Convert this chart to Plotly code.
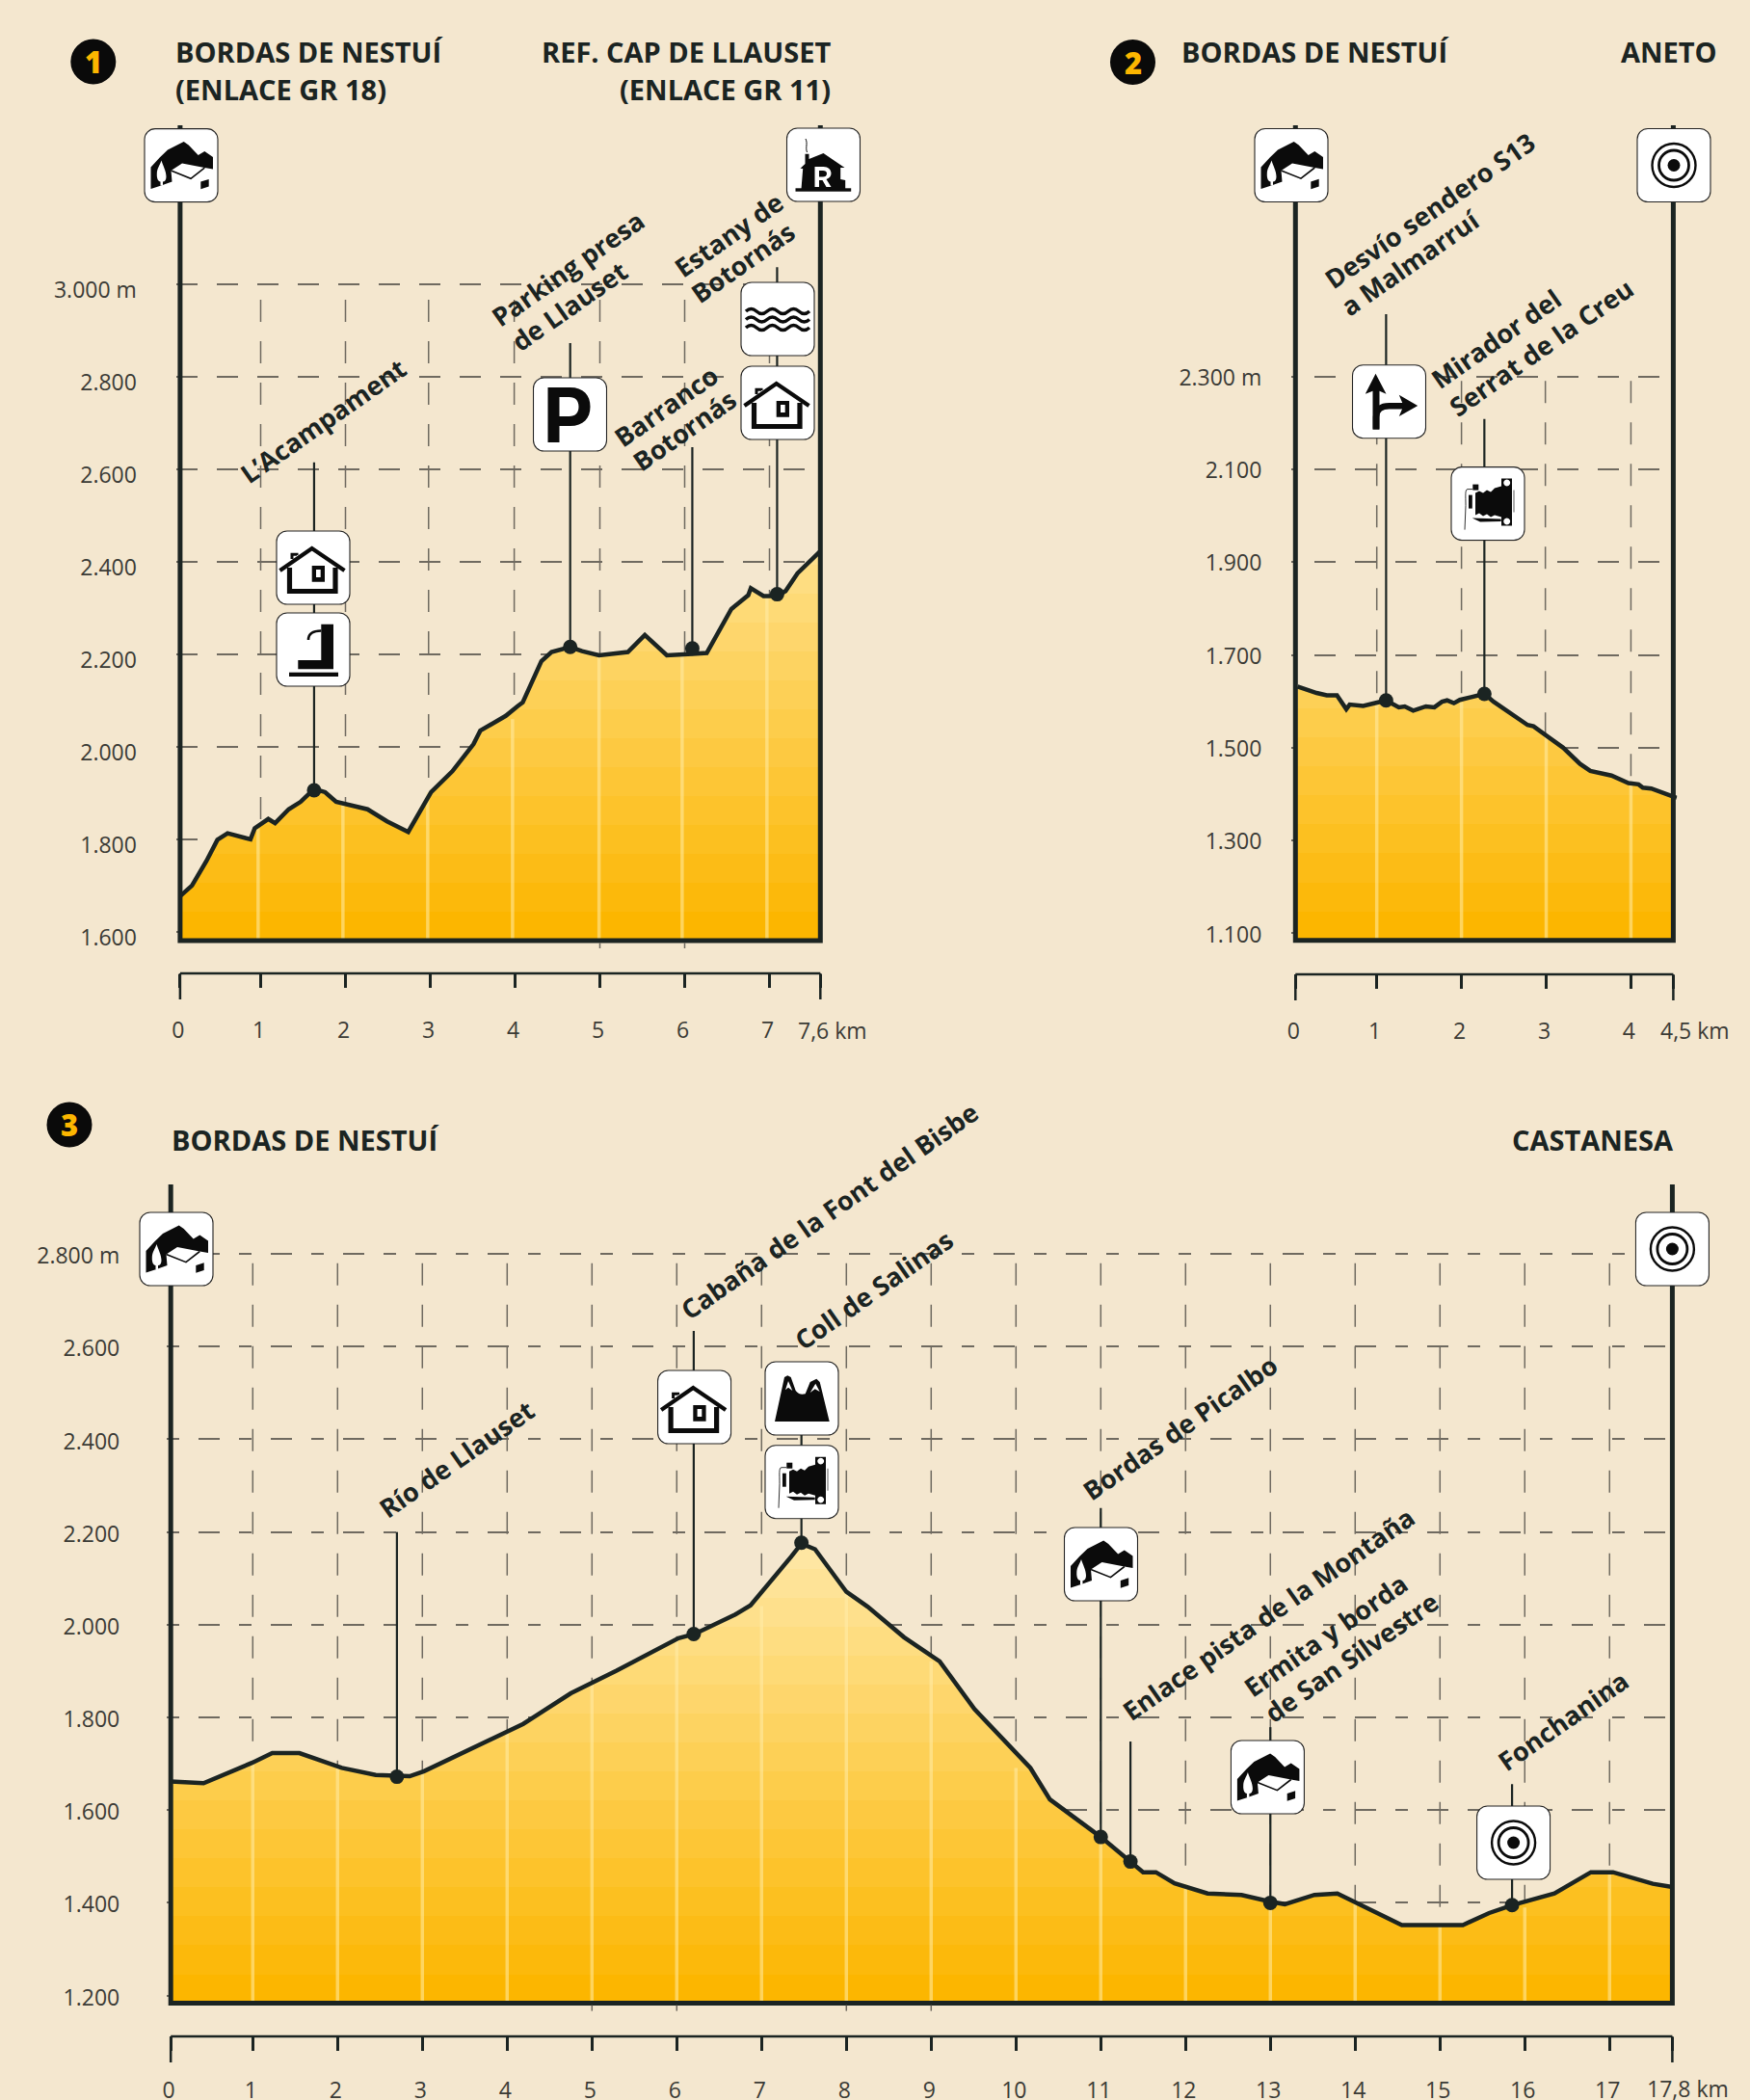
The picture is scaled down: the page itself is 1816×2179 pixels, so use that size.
import base64
import plotly.graph_objects as go

W, H = 1816, 2179
BG = "#f4e7cf"
INK = "#1b2422"
GRID = "#6f6a60"
FONT = "Open Sans"

# ---------- panel 1 ----------
p1_km = [0.05,0.19,0.36,0.49,0.61,0.88,0.93,1.09,1.17,1.33,1.47,1.63,1.76,1.89,2.26,2.49,2.74,3.01,3.26,3.51,3.59,3.73,3.89,4.03,4.09,4.31,4.43,4.65,4.79,4.99,5.33,5.53,5.79,6.09,6.26,6.55,6.75,6.78,6.93,7.09,7.19,7.33,7.6]
p1_elev = [1677,1700,1753,1799,1813,1800,1824,1844,1835,1865,1881,1909,1902,1881,1865,1839,1816,1902,1947,2006,2035,2049,2067,2088,2096,2185,2205,2216,2207,2198,2205,2242,2198,2201,2203,2298,2328,2343,2326,2326,2337,2375,2423]
p1_dots_km = [1.63,4.65,6.09,7.09]
p1_dots_elev = [1906,2216,2213,2330]
p1_leader_top = [2615,2873,2648,3037]
p1_ygrid = [3000,2800,2600,2400,2200,2000,1800,1600]
p1_ylabels = ["3.000 m","2.800","2.600","2.400","2.200","2.000","1.800","1.600"]
p1_xticks = [0.05,1,2,3,4,5,6,7,7.6]
p1_xlabels = ["0","1","2","3","4","5","6","7",""]
p1_end_label = ("7,6 km",864,1068.6)
p1_vgrid = [1,2,2.98,3.99,5,6,7]
p1_stub_km = [5,6]
p1_pale_km = [0.97,1.97,2.97,3.97,4.99,5.97,6.97]
p1_pale_top = [1824,1881,1902,2060,2198,2201,2326]

# ---------- panel 2 ----------
p2_km = [0.065,0.29,0.41,0.53,0.64,0.68,0.84,1.11,1.26,1.33,1.43,1.58,1.68,1.77,1.83,1.91,1.98,2.27,2.38,2.78,2.85,3.0,3.2,3.4,3.52,3.77,3.97,4.09,4.14,4.24,4.54]
p2_elev = [1632,1618,1613,1613,1583,1593,1590,1602,1587,1589,1580,1589,1587,1599,1602,1596,1603,1616,1599,1549,1546,1527,1500,1465,1450,1440,1424,1421,1414,1412,1392]
p2_dots_km = [1.11,2.27]
p2_dots_elev = [1602,1616]
p2_leader_top = [2434,2208]
p2_ygrid = [2300,2100,1900,1700,1500,1300,1100]
p2_ylabels = ["2.300 m","2.100","1.900","1.700","1.500","1.300","1.100"]
p2_xticks = [0.04,1,2,3,4,4.5]
p2_xlabels = ["0","1","2","3","4",""]
p2_end_label = ("4,5 km",1759,1068.6)
p2_vgrid = [1,2,2.99,4]
p2_stub_km = []
p2_pale_km = [1,2,3,4]
p2_pale_top = [1600,1598,1527,1424]

# ---------- panel 3 ----------
p3_km = [0.033,0.42,0.99,1.23,1.55,2.05,2.45,2.85,3.02,3.99,4.19,4.75,5.29,6.02,6.21,6.69,6.87,7.35,7.47,7.63,8.0,8.25,8.49,8.68,9.10,9.51,10.17,10.40,11.0,11.35,11.50,11.65,11.87,12.26,12.66,12.99,13.17,13.52,13.79,14.55,15.27,15.58,15.85,16.35,16.78,17.04,17.51,17.74]
p3_elev = [1662,1658,1702,1723,1723,1691,1676,1673,1684,1768,1786,1852,1901,1971,1980,2022,2042,2147,2175,2163,2071,2039,2001,1973,1921,1818,1691,1623,1542,1489,1466,1466,1442,1420,1417,1403,1397,1417,1420,1352,1352,1378,1395,1420,1466,1466,1441,1434]
p3_dots_km = [2.70,6.20,7.47,11.0,11.35,13.0,15.85]
p3_dots_elev = [1672,1980,2177,1542,1489,1400,1395]
p3_leader_top = [2200,2634,2566,2252,1748,1779,1656]
p3_ygrid = [2800,2600,2400,2200,2000,1800,1600,1400,1200]
p3_ylabels = ["2.800 m","2.600","2.400","2.200","2.000","1.800","1.600","1.400","1.200"]
p3_xticks = [0.033,1,2,3,4,5,6,7,8,9,10,11,12,13,14,15,16,17,17.74]
p3_xlabels = ["0"]+[str(i) for i in range(1,18)]+[""]
p3_end_label = ("17,8 km",1751,2167)
p3_vgrid = [1,2,3,4,5,6,7,8,9,10,11,12,13,14,15,16,17]
p3_stub_km = [5,6,8,9]
p3_pale_km = [1,2,3,4,5,6,7,8,9,10,11,12,13,14,15,16,17]
p3_pale_top = [1702,1691,1684,1768,1875,1965,2040,2071,1921,1691,1542,1442,1403,1400,1352,1390,1466]

# geometry of panels: pixel box of the frame and axis ranges at the frame
PANELS = [
    dict(km=p1_km, elev=p1_elev, dk=p1_dots_km, de=p1_dots_elev, top=p1_leader_top, yg=p1_ygrid, yl=p1_ylabels,
         xt=p1_xticks, xl=p1_xlabels, vg=p1_vgrid, pk=p1_pale_km, pt=p1_pale_top, stub=p1_stub_km, end=p1_end_label,
         box=(186.9,851.3,130,976), xr=(0.05,7.6), yr=(1581,3344), grid_top=2967, bracket=1010, yshift=6, ystand=40,
         xstand=24, hdash="22px,20px"),
    dict(km=p2_km, elev=p2_elev, dk=p2_dots_km, de=p2_dots_elev, top=p2_leader_top, yg=p2_ygrid, yl=p2_ylabels,
         xt=p2_xticks, xl=p2_xlabels, vg=p2_vgrid, pk=p2_pale_km, pt=p2_pale_top, stub=p2_stub_km, end=p2_end_label,
         box=(1344.3,1736.4,130,975.8), xr=(0.04,4.5), yr=(1084.8,2841), grid_top=2290, bracket=1011, yshift=1, ystand=30,
         xstand=24, hdash="4px,20px,22px,20px,22px,20px,22px,20px,22px,20px,22px,20px,22px,20px,22px,20px,22px,20px,22px,20px"),
    dict(km=p3_km, elev=p3_elev, dk=p3_dots_km, de=p3_dots_elev, top=p3_leader_top, yg=p3_ygrid, yl=p3_ylabels,
         xt=p3_xticks, xl=p3_xlabels, vg=p3_vgrid, pk=p3_pale_km, pt=p3_pale_top, stub=p3_stub_km, end=p3_end_label,
         box=(177.2,1735.4,1229,2078.6), xr=(0.033,17.74), yr=(1183.3,2950), grid_top=2780, bracket=2113, yshift=2, ystand=48,
         xstand=21, hdash="13px,20px,22px,20px"),
]

# text (label, centre x px, centre y px)
point_labels = [
    ("L\u2019Acampament",335,436),("Parking presa",589,278),("de Llauset",590.5,317),
    ("Estany de",756,243),("Botorn\u00e1s",770,272),("Barranco",690.5,421),("Botorn\u00e1s",710,447),
    ("Desv\u00edo sendero S13",1483,218),("a Malmarru\u00ed",1463,272),("Mirador del",1552,351.5),("Serrat de la Creu",1599,361),
    ("R\u00edo de Llauset",474,1513),("Caba\u00f1a de la Font del Bisbe",860,1256),("Coll de Salinas",906,1338),
    ("Bordas de Picalbo",1224,1481),("Enlace pista de la Monta\u00f1a",1316,1674),("Ermita y borda",1375.5,1696.5),
    ("de San Silvestre",1402,1719),("Fonchanina",1621.5,1785),
]
titles = [
    ("BORDAS DE NESTU\u00cd",179.5,53.6,"left"),("(ENLACE GR 18)",179.5,93,"left"),
    ("REF. CAP DE LLAUSET",864,53.6,"right"),("(ENLACE GR 11)",864,93,"right"),
    ("BORDAS DE NESTU\u00cd",1224,53.3,"left"),("ANETO",1784,53.3,"right"),
    ("BORDAS DE NESTU\u00cd",176,1182.5,"left"),("CASTANESA",1739,1182.5,"right"),
]
badges = [("1",96.8,64),("2",1175.5,64.5),("3",72,1167)]

# icons: (glyph, centre x px, centre y px)
icons = [
    ("chalet",188,171.6),("refuge",854.5,171),("lake",807,331),("house",807,418),("parking",591.5,430),
    ("house",325,589),("fountain",325,674),
    ("chalet",1340,171.5),("target",1737,171.5),("turn",1441.5,416.7),("camera",1544,522.6),
    ("chalet",183,1296),("house",720.6,1460),("pass",832,1451),("camera",832,1537.7),
    ("chalet",1142.5,1623),("target",1735.4,1296),("chalet",1315.4,1844),("target",1570.6,1912),
]

K = "#0b0b0b"
GLYPHS = {
 "chalet": f'''<path fill="{K}" d="M6.5,40 L15.7,30 L24,22 L40.7,13.5 L45.7,17 L55.7,27.5 L62.3,23.5 L71,29.5 L71,42 L62.3,40.5 L39,36 L27.5,43.5 L28.5,55 L17.3,59 L6.5,62.5Z"/>
 <path fill="#fff" d="M17.5,33 C19,38 22.5,44 22.5,50 C22.5,53 21,55 19,55 L19,59 L16.5,59 L16.5,55 C14.5,55 12.5,52 12.8,47 C12.8,41 16,38 17.5,33Z"/>
 <path fill="#fff" stroke="{K}" stroke-width="1.6" d="M27.5,43.5 L48,51.7 L62.3,40.5"/>
 <path fill="{K}" d="M58.3,55 L66.7,52.3 L66.7,60 L58.3,62.7Z"/>''',
 "refuge": f'''<path fill="none" stroke="{K}" stroke-width="1" d="M21,25 C19,20 22,16 19.5,11"/>
 <rect x="9" y="62.3" width="57.7" height="3.4" fill="{K}"/>
 <path fill="{K}" d="M19,26.7 H23 V32 L38,26 L60,41 L55.7,41 L55.7,53 L60.7,54 L60.7,63 L15,63 L16.7,42 L14,41.7 L19,37Z"/>
 <path fill="#fff" fill-rule="evenodd" d="M29,40 H38 C43,40 46,43 46,47 C46,50 44,52 41,53 L46,61 H41 L37,54 H33.5 V61 H29Z M33.5,44 V50.5 H37.5 C40,50.5 41.5,49.5 41.5,47 C41.5,45 40,44 37.5,44Z"/>''',
 "lake": "".join(f'<path fill="none" stroke="{K}" stroke-width="3.4" d="M5,{y} q5.5,-5 11,0 t11,0 t11,0 t11,0 t11,0 t11,0"/>' for y in (30,38.5,47)),
 "house": f'''<path fill="none" stroke="{K}" stroke-width="4.2" d="M3.5,41 L36.7,18 L70.5,41"/>
 <path fill="none" stroke="{K}" stroke-width="5.2" d="M13.5,38 V62.5 H61 V38"/>
 <path fill="none" stroke="{K}" stroke-width="3" d="M16,29 V24.3 H21 V25"/>
 <path fill="{K}" fill-rule="evenodd" d="M36.7,36 H50 V52.7 H36.7Z M41,40 V48 H45.7 V40Z"/>''',
 "parking": f'<path fill="{K}" fill-rule="evenodd" d="M15,10 H38 C52,10 59,18 59,30 C59,42 52,50 38,50 H27 V67 H15Z M27,20 V40 H37 C44,40 47,36 47,30 C47,24 44,20 37,20Z"/>',
 "fountain": f'''<rect x="13" y="61.7" width="51" height="4.3" fill="{K}"/>
 <path fill="{K}" d="M46.3,11.7 H59 V58.3 H22.3 V49 H46.3Z"/>
 <path fill="none" stroke="{K}" stroke-width="2.6" d="M46.3,18.5 C37,18.5 33,22 33,28"/>''',
 "target": f'''<circle cx="38" cy="38" r="22.5" fill="none" stroke="{K}" stroke-width="2.4"/>
 <circle cx="38" cy="38" r="15.5" fill="none" stroke="{K}" stroke-width="2.8"/>
 <circle cx="38" cy="38" r="6.5" fill="{K}"/>''',
 "turn": f'''<path fill="none" stroke="{K}" stroke-width="7" d="M24.5,67 V25"/>
 <path fill="none" stroke="{K}" stroke-width="6.5" d="M24.5,66 V54 C24.5,46 30,42.5 38,42.5 H58"/>
 <path fill="{K}" d="M24,9 L35,30 L28,27 L21,27 L13.3,30Z"/>
 <path fill="{K}" d="M67.7,42.3 L48.3,31 L53,42.3 L48.3,53.3Z"/>''',
 "camera": f'''<path fill="{K}" fill-rule="evenodd" d="M52,12 H63 V61 H52Z M57.7,13 a3.4,3.4 0 1,0 .01,0Z M57.7,53 a3.4,3.4 0 1,0 .01,0Z"/>
 <path fill="{K}" d="M25,27 L29,25 L33,27 L37,24 L41,26 L45,22 L52,20 V52 L45,50 L41,52 L37,49 L33,51 L29,48 L25,50Z"/>
 <rect x="18" y="29" width="3.8" height="14" fill="{K}"/><rect x="22.3" y="18" width="6" height="6" fill="{K}"/>
 <path fill="none" stroke="#333" stroke-width="1" d="M22,23 H17 C14,23 15,30 15,40 L14,65"/>
 <path fill="{K}" d="M21.7,53 L51.7,54 V56.5 L30,57 Z"/>
 <path stroke="#777" stroke-width="1.2" d="M65,24 V47"/>''',
 "pass": f'''<path fill="{K}" d="M10,62 L20,16 L23.3,14.3 L26.7,16 L31.7,30 C35,34 38,34 41.7,33.3 L46.7,21 L53.3,17.7 L56.7,21 L66.7,62Z"/>
 <path fill="#fff" d="M21,29.3 L24,20 L28.3,30 L24,26.7Z M46.7,32 L52.3,22.7 L56.7,31 L51.7,28.3Z"/>''',
}

def icon_uri(name):
    svg = (f'<svg xmlns="http://www.w3.org/2000/svg" width="304" height="304" viewBox="-1 -1 78 78">'
           f'<rect x="0" y="0" width="76" height="76" rx="11" fill="#fff" stroke="#222" stroke-width="1.1"/>'
           f'{GLYPHS[name]}</svg>')
    return "data:image/svg+xml;base64," + base64.b64encode(svg.encode()).decode()

fx = lambda p: p / W
fy = lambda p: 1 - p / H
fig = go.Figure()
shapes, annotations, images = [], [], []

BAND_N = 16
band_scale = []
for i in range(BAND_N):
    t = i / 13
    c = f"rgb({252+2*t:.0f},{182+42*t:.0f},{140*t:.0f})"
    band_scale += [[i / BAND_N, c], [(i + 1) / BAND_N, c]]

TICK_FONT = dict(family=FONT, size=23, color="#3b3b36")
PAD = 4  # px of room round the frame, so that its thick stroke is not clipped by the plot area

for n, p in enumerate(PANELS, start=1):
    xa, ya = ("x", "y") if n == 1 else (f"x{n}", f"y{n}")
    l, r, t, b = p["box"]
    x0, x1 = p["xr"]
    base, ytop = p["yr"]
    kx = (x1 - x0) / (r - l)
    ky = (ytop - base) / (b - t)
    # vertical dashed grid
    for k in p["vg"]:
        fig.add_trace(go.Scatter(x=[k, k], y=[p["grid_top"], base], xaxis=xa, yaxis=ya, mode="lines",
                                 line=dict(color=GRID, width=1.5, dash="23px,20px"), hoverinfo="skip"))
    # filled profile, closed along the baseline
    fig.add_trace(go.Scatter(x=[min(k, x1) for k in p["km"]] + [x1, x0], y=list(p["elev"]) + [base, base],
                             xaxis=xa, yaxis=ya, mode="lines", fill="toself",
                             fillgradient=dict(type="vertical", start=base, stop=base + 1000, colorscale=band_scale),
                             line=dict(width=0, color="rgba(0,0,0,0)"), hoverinfo="skip"))
    # pale km stripes in the fill
    for k, top in zip(p["pk"], p["pt"]):
        fig.add_trace(go.Scatter(x=[k, k], y=[base, top], xaxis=xa, yaxis=ya, mode="lines",
                                 line=dict(color="rgba(255,236,170,0.55)", width=3.5), hoverinfo="skip"))
    # leaders
    for k, e, top in zip(p["dk"], p["de"], p["top"]):
        fig.add_trace(go.Scatter(x=[k, k], y=[e, top], xaxis=xa, yaxis=ya, mode="lines",
                                 line=dict(color=INK, width=2.2), hoverinfo="skip"))
    # profile line, frame, dots
    fig.add_trace(go.Scatter(x=p["km"], y=p["elev"], xaxis=xa, yaxis=ya, mode="lines",
                             line=dict(color=INK, width=4.5), hoverinfo="skip"))
    fig.add_trace(go.Scatter(x=[x0, x0, x1, x1], y=[ytop, base, base, ytop], xaxis=xa, yaxis=ya, mode="lines",
                             line=dict(color=INK, width=5), hoverinfo="skip"))
    fig.add_trace(go.Scatter(x=p["dk"], y=p["de"], xaxis=xa, yaxis=ya, mode="markers",
                             marker=dict(color=INK, size=15), hoverinfo="skip"))
    # axes
    fig.update_layout({
        ("xaxis" if n == 1 else f"xaxis{n}"): dict(
            domain=[fx(l - PAD), fx(r + PAD)], range=[x0 - PAD * kx, x1 + PAD * kx], anchor="free", position=fy(p["bracket"]),
            tickmode="array", tickvals=p["xt"], ticktext=p["xl"], ticks="outside", ticklen=14, tickwidth=2.5,
            tickcolor=INK, showline=False, showgrid=False, zeroline=False,
            ticklabelstandoff=p["xstand"], ticklabelshift=-2, tickangle=0, automargin=False, tickfont=TICK_FONT),
        ("yaxis" if n == 1 else f"yaxis{n}"): dict(
            domain=[fy(b + PAD), fy(t)], range=[base - PAD * ky, ytop], anchor=xa, tickmode="array", tickvals=p["yg"], ticktext=p["yl"],
            showgrid=True, gridcolor=GRID, gridwidth=1.5, griddash=p["hdash"], zeroline=False, showline=False, ticks="",
            ticklabelstandoff=p["ystand"], ticklabelshift=p["yshift"], automargin=False, tickfont=TICK_FONT),
    })
    # km bracket: rail and long end ticks
    shapes.append(dict(type="line", xref=xa, yref="paper", x0=p["xt"][0], x1=p["xt"][-1], y0=fy(p["bracket"]), y1=fy(p["bracket"]),
                       line=dict(color=INK, width=2.5)))
    for v in (p["xt"][0], p["xt"][-1]):
        shapes.append(dict(type="line", xref=xa, yref="paper", x0=v, x1=v, y0=fy(p["bracket"]), y1=fy(p["bracket"] + 27),
                           line=dict(color=INK, width=2.5)))
    # short grid stubs under the baseline
    for k in p["stub"]:
        shapes.append(dict(type="line", xref=xa, yref="paper", x0=k, x1=k, y0=fy(b + 2), y1=fy(b + 8),
                           line=dict(color=GRID, width=1.5)))
    text, ex, ey = p["end"]
    annotations.append(dict(text=text, x=fx(ex), y=fy(ey), xref="paper", yref="paper", xanchor="center", yanchor="middle",
                            showarrow=False, font=TICK_FONT))

for text, x, y in point_labels:
    annotations.append(dict(text=text, x=fx(x), y=fy(y), xref="paper", yref="paper", xanchor="center", yanchor="middle",
                            showarrow=False, textangle=-35, font=dict(family=FONT, size=27, color=INK, weight=700)))
for text, x, y, side in titles:
    annotations.append(dict(text=text, x=fx(x), y=fy(y), xref="paper", yref="paper", xanchor=side, yanchor="middle",
                            showarrow=False, font=dict(family=FONT, size=29, color=INK, weight=700)))
for text, x, y in badges:
    shapes.append(dict(type="circle", xref="paper", yref="paper", x0=fx(x - 23.5), x1=fx(x + 23.5), y0=fy(y - 23.5), y1=fy(y + 23.5),
                       fillcolor="#0a0a0a", line=dict(width=0)))
    annotations.append(dict(text=text, x=fx(x), y=fy(y), xref="paper", yref="paper", xanchor="center", yanchor="middle",
                            showarrow=False, font=dict(family=FONT, size=31, color="#fcb600", weight=800)))
for name, x, y in icons:
    images.append(dict(source=icon_uri(name), xref="paper", yref="paper", x=fx(x), y=fy(y),
                       sizex=78 / W, sizey=78 / H, xanchor="center", yanchor="middle", sizing="stretch", layer="above"))

fig.update_layout(width=W, height=H, margin=dict(l=0, r=0, t=0, b=0, autoexpand=False), paper_bgcolor=BG, plot_bgcolor=BG,
                  showlegend=False, shapes=shapes, annotations=annotations, images=images,
                  font=dict(family=FONT))
fig.write_html("out.html", config=dict(displayModeBar=False),
               post_script="document.body.style.margin='0';document.documentElement.style.overflow='hidden';")
